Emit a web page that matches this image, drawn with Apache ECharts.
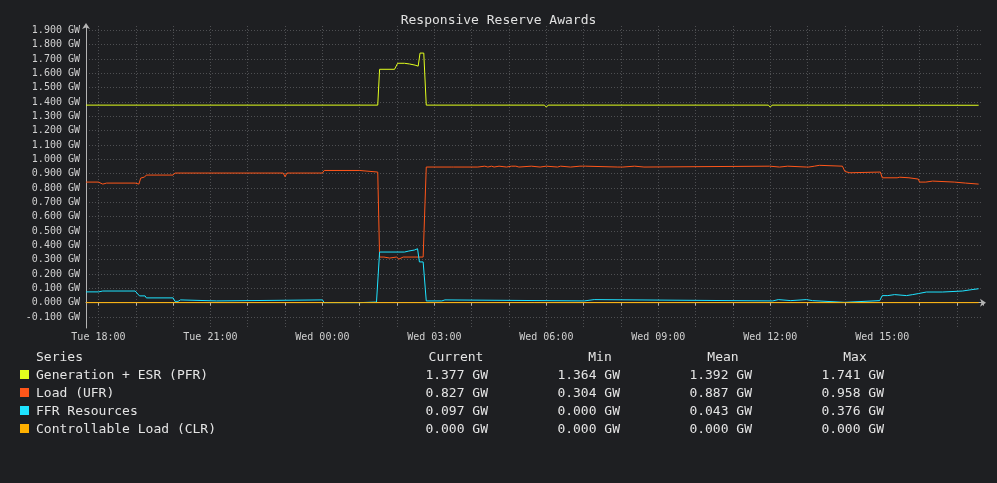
<!DOCTYPE html>
<html>
<head>
<meta charset="UTF-8">
<title>Responsive Reserve Awards</title>
<script src="https://cdn.jsdelivr.net/npm/echarts@6/dist/echarts.min.js"></script>
<style>
html,body{margin:0;padding:0;background:#1e1f22;}
#main{width:997px;height:483px;}
</style>
</head>
<body>
<div id="main"></div>
<script>
// series names / colours
var seriesNames = ['Generation + ESR (PFR)', 'Load (UFR)', 'FFR Resources', 'Controllable Load (CLR)'];
var seriesColors = ['#e3ff1e', '#ff561a', '#1ee3ff', '#ffb000'];

// stats table (GW)
var statCurrent = ['1.377', '0.827', '0.097', '0.000'];
var statMin     = ['1.364', '0.304', '0.000', '0.000'];
var statMean    = ['1.392', '0.887', '0.043', '0.000'];
var statMax     = ['1.741', '0.958', '0.376', '0.000'];

// x range of the plot
var xStart = 'Tue 17:40';
var xEnd = 'Wed 17:42';

// [time, GW]
var pfr = [
  ['Tue 17:40', 1.378], ['Wed 01:29', 1.378], ['Wed 01:32', 1.628], ['Wed 01:56', 1.628],
  ['Wed 01:58', 1.620], ['Wed 02:01', 1.670], ['Wed 02:12', 1.670], ['Wed 02:13', 1.665],
  ['Wed 02:20', 1.665], ['Wed 02:21', 1.657], ['Wed 02:29', 1.657], ['Wed 02:30', 1.650],
  ['Wed 02:34', 1.650], ['Wed 02:37', 1.741], ['Wed 02:43', 1.741], ['Wed 02:47', 1.378],
  ['Wed 05:57', 1.378], ['Wed 06:00', 1.364], ['Wed 06:03', 1.378], ['Wed 11:57', 1.378],
  ['Wed 12:00', 1.364], ['Wed 12:03', 1.378], ['Wed 17:35', 1.377]
];

var ufr = [
  ['Tue 17:40', 0.841], ['Tue 18:00', 0.841], ['Tue 18:03', 0.834], ['Tue 18:07', 0.827],
  ['Tue 18:13', 0.834], ['Tue 18:59', 0.834], ['Tue 19:02', 0.827], ['Tue 19:05', 0.827],
  ['Tue 19:08', 0.869], ['Tue 19:14', 0.876], ['Tue 19:17', 0.890], ['Tue 20:00', 0.890],
  ['Tue 20:03', 0.904], ['Tue 22:57', 0.904], ['Tue 23:00', 0.878], ['Tue 23:03', 0.904],
  ['Wed 00:00', 0.904], ['Wed 00:03', 0.922], ['Wed 01:00', 0.922], ['Wed 01:03', 0.911],
  ['Wed 01:29', 0.911], ['Wed 01:32', 0.318], ['Wed 01:39', 0.318], ['Wed 01:40', 0.311],
  ['Wed 01:48', 0.311], ['Wed 01:49', 0.318], ['Wed 01:59', 0.318], ['Wed 02:03', 0.304],
  ['Wed 02:06', 0.311], ['Wed 02:10', 0.318], ['Wed 02:42', 0.318], ['Wed 02:47', 0.946],
  ['Wed 03:27', 0.946], ['Wed 03:28', 0.952], ['Wed 03:31', 0.946], ['Wed 04:10', 0.946],
  ['Wed 04:11', 0.952], ['Wed 04:21', 0.952], ['Wed 04:22', 0.946], ['Wed 04:26', 0.946],
  ['Wed 04:27', 0.952], ['Wed 04:32', 0.952], ['Wed 04:33', 0.946], ['Wed 04:36', 0.946],
  ['Wed 04:37', 0.952], ['Wed 04:44', 0.952], ['Wed 04:45', 0.946], ['Wed 04:56', 0.946],
  ['Wed 04:57', 0.952], ['Wed 05:04', 0.952], ['Wed 05:05', 0.946], ['Wed 05:06', 0.946],
  ['Wed 05:07', 0.952], ['Wed 05:11', 0.952], ['Wed 05:12', 0.946], ['Wed 05:16', 0.946],
  ['Wed 05:17', 0.952], ['Wed 05:36', 0.952], ['Wed 05:37', 0.946], ['Wed 05:50', 0.946],
  ['Wed 05:51', 0.952], ['Wed 06:00', 0.952], ['Wed 06:01', 0.946], ['Wed 06:18', 0.946],
  ['Wed 06:19', 0.952], ['Wed 06:23', 0.952], ['Wed 06:24', 0.946], ['Wed 06:39', 0.946],
  ['Wed 06:40', 0.952], ['Wed 06:54', 0.952], ['Wed 06:55', 0.946], ['Wed 06:57', 0.946],
  ['Wed 06:58', 0.952], ['Wed 07:03', 0.952], ['Wed 07:04', 0.946], ['Wed 07:55', 0.946],
  ['Wed 07:56', 0.943], ['Wed 07:59', 0.946], ['Wed 08:03', 0.946], ['Wed 08:04', 0.952],
  ['Wed 08:22', 0.952], ['Wed 08:23', 0.946], ['Wed 08:37', 0.946], ['Wed 08:38', 0.952],
  ['Wed 11:59', 0.952], ['Wed 12:00', 0.946], ['Wed 12:15', 0.946], ['Wed 12:16', 0.952],
  ['Wed 12:28', 0.952], ['Wed 12:29', 0.946], ['Wed 12:58', 0.946], ['Wed 13:00', 0.942],
  ['Wed 13:02', 0.946], ['Wed 13:03', 0.952], ['Wed 13:11', 0.952], ['Wed 13:12', 0.958],
  ['Wed 13:19', 0.958], ['Wed 13:20', 0.952], ['Wed 13:56', 0.952], ['Wed 14:00', 0.915],
  ['Wed 14:02', 0.906], ['Wed 14:08', 0.906], ['Wed 14:10', 0.911], ['Wed 14:57', 0.911],
  ['Wed 15:00', 0.871], ['Wed 15:24', 0.871], ['Wed 15:25', 0.875], ['Wed 15:28', 0.875],
  ['Wed 15:29', 0.871], ['Wed 15:43', 0.871], ['Wed 15:44', 0.862], ['Wed 15:58', 0.862],
  ['Wed 16:00', 0.841], ['Wed 16:10', 0.841], ['Wed 16:11', 0.848], ['Wed 16:21', 0.848],
  ['Wed 16:22', 0.841], ['Wed 16:56', 0.841], ['Wed 16:57', 0.834], ['Wed 17:14', 0.834],
  ['Wed 17:15', 0.827], ['Wed 17:35', 0.827]
];

var ffr = [
  ['Tue 17:40', 0.075], ['Tue 18:00', 0.075], ['Tue 18:03', 0.086], ['Tue 18:07', 0.081],
  ['Tue 18:59', 0.081], ['Tue 19:02', 0.091], ['Tue 19:06', 0.047], ['Tue 19:15', 0.047],
  ['Tue 19:17', 0.033], ['Tue 20:00', 0.033], ['Tue 20:03', 0.009], ['Tue 20:08', 0.009],
  ['Tue 20:09', 0.019], ['Tue 20:12', 0.019], ['Tue 20:14', 0.012], ['Tue 21:10', 0.012],
  ['Tue 21:12', 0.019], ['Wed 00:00', 0.019], ['Wed 00:03', 0.000], ['Wed 01:00', 0.000],
  ['Wed 01:01', 0.004], ['Wed 01:27', 0.004], ['Wed 01:32', 0.353], ['Wed 02:12', 0.353],
  ['Wed 02:14', 0.360], ['Wed 02:19', 0.360], ['Wed 02:20', 0.367], ['Wed 02:28', 0.367],
  ['Wed 02:30', 0.376], ['Wed 02:33', 0.376], ['Wed 02:36', 0.284], ['Wed 02:42', 0.284],
  ['Wed 02:47', 0.012], ['Wed 03:12', 0.012], ['Wed 03:13', 0.019], ['Wed 03:17', 0.019],
  ['Wed 03:18', 0.012], ['Wed 07:01', 0.012], ['Wed 07:03', 0.021], ['Wed 07:17', 0.021],
  ['Wed 07:19', 0.012], ['Wed 12:04', 0.012], ['Wed 12:05', 0.021], ['Wed 12:13', 0.021],
  ['Wed 12:14', 0.014], ['Wed 12:33', 0.014], ['Wed 12:34', 0.021], ['Wed 12:58', 0.021],
  ['Wed 13:00', 0.014], ['Wed 13:08', 0.014], ['Wed 13:11', 0.002], ['Wed 13:59', 0.002],
  ['Wed 14:00', 0.014], ['Wed 14:56', 0.014], ['Wed 14:58', 0.002], ['Wed 15:00', 0.049],
  ['Wed 15:09', 0.049], ['Wed 15:10', 0.056], ['Wed 15:20', 0.056], ['Wed 15:21', 0.049],
  ['Wed 15:39', 0.049], ['Wed 15:40', 0.056], ['Wed 15:49', 0.056], ['Wed 15:50', 0.063],
  ['Wed 15:58', 0.063], ['Wed 15:59', 0.074], ['Wed 16:11', 0.074], ['Wed 16:12', 0.070],
  ['Wed 16:13', 0.074], ['Wed 16:37', 0.074], ['Wed 16:38', 0.081], ['Wed 17:09', 0.081],
  ['Wed 17:10', 0.090], ['Wed 17:23', 0.090], ['Wed 17:24', 0.097], ['Wed 17:35', 0.097]
];

var clr = [
  ['Tue 17:40', 0.000], ['Wed 17:35', 0.000]
];

var dayNames = ['Tue', 'Wed'];
var FONT = 'DejaVu Sans Mono';

// x is measured in 3-hour units so the axis ticks land on 18:00, 21:00, ...
function toX(s) {
  var p = s.split(' ');
  var hm = p[1].split(':');
  var h = dayNames.indexOf(p[0]) * 24 + Number(hm[0]) + Number(hm[1]) / 60;
  return h / 3;
}
function conv(arr) {
  return arr.map(function (d) { return [toX(d[0]), d[1]]; });
}
function pad(n) { return n < 10 ? '0' + n : '' + n; }

var chart = echarts.init(document.getElementById('main'), null, {renderer: 'canvas'});

var gridColor = '#4e4f52';
var axisColor = '#b4b4b4';

var allData = [pfr, ufr, ffr, clr];
var series = allData.map(function (d, i) {
  return {
    name: seriesNames[i],
    type: 'line',
    data: conv(d),
    showSymbol: false,
    symbol: 'none',
    lineStyle: {width: 1, color: seriesColors[i]},
    itemStyle: {color: seriesColors[i]},
    z: 2 + i,
    animation: false
  };
});

// legend table below the plot
var graphics = [];
var headY = 358, rowY0 = 376, rowH = 18;
var txt = function (text, x, y, align) {
  return {
    type: 'text', x: x, y: y, silent: true,
    style: {text: text, fill: '#e4e4e4', font: '13px "' + FONT + '"', align: align, verticalAlign: 'middle'}
  };
};
graphics.push(txt('Series', 36, headY, 'left'));
graphics.push(txt('Current', 456, headY, 'center'));
graphics.push(txt('Min', 600, headY, 'center'));
graphics.push(txt('Mean', 723, headY, 'center'));
graphics.push(txt('Max', 855, headY, 'center'));
seriesNames.forEach(function (n, i) {
  var y = rowY0 + i * rowH;
  graphics.push({type: 'rect', silent: true, shape: {x: 20, y: y - 6, width: 9, height: 9}, style: {fill: seriesColors[i]}});
  graphics.push(txt(n, 36, y, 'left'));
  graphics.push(txt(statCurrent[i] + ' GW', 488, y, 'right'));
  graphics.push(txt(statMin[i] + ' GW', 620, y, 'right'));
  graphics.push(txt(statMean[i] + ' GW', 752, y, 'right'));
  graphics.push(txt(statMax[i] + ' GW', 884, y, 'right'));
});

var option = {
  backgroundColor: '#1e1f22',
  animation: false,
  title: {
    text: 'Responsive Reserve Awards',
    left: 'center',
    top: 9,
    textStyle: {color: '#e0e0e0', fontFamily: FONT, fontSize: 13, fontWeight: 'normal'}
  },
  grid: {left: 86, right: 14, top: 26, bottom: 155, containLabel: false},
  xAxis: {
    type: 'value',
    min: toX(xStart),
    max: toX(xEnd),
    splitNumber: 8,
    axisLine: {show: true, lineStyle: {color: axisColor, width: 1}, symbol: ['none', 'arrow'], symbolSize: [6, 6], symbolOffset: [0, 3]},
    axisTick: {show: true, length: 3, lineStyle: {color: axisColor}},
    minorTick: {show: true, splitNumber: 3, length: 3, lineStyle: {color: axisColor}},
    axisLabel: {
      color: '#d0d0d0', fontFamily: FONT, fontSize: 10, margin: 4,
      showMinLabel: false, showMaxLabel: false,
      formatter: function (v) {
        var h = Math.round(v * 3);
        return dayNames[Math.floor(h / 24)] + ' ' + pad(h % 24) + ':00';
      }
    },
    splitLine: {show: true, showMinLine: false, showMaxLine: false, lineStyle: {color: gridColor, type: [1, 2], width: 1}},
    minorSplitLine: {show: true, lineStyle: {color: gridColor, type: [1, 2], width: 1}}
  },
  yAxis: {
    type: 'value',
    min: -0.177,
    max: 1.93,
    splitNumber: 21,
    axisLine: {show: true, lineStyle: {color: axisColor, width: 1}, symbol: ['none', 'arrow'], symbolSize: [6, 6], symbolOffset: [0, 3]},
    axisTick: {show: false},
    axisLabel: {
      color: '#d0d0d0', fontFamily: FONT, fontSize: 10, margin: 6,
      showMinLabel: false, showMaxLabel: false,
      formatter: function (v) { return v.toFixed(3) + ' GW'; }
    },
    splitLine: {show: true, showMinLine: false, showMaxLine: false, lineStyle: {color: gridColor, type: [1, 2], width: 1}}
  },
  series: series,
  graphic: graphics
};

chart.setOption(option);
</script>
</body>
</html>
